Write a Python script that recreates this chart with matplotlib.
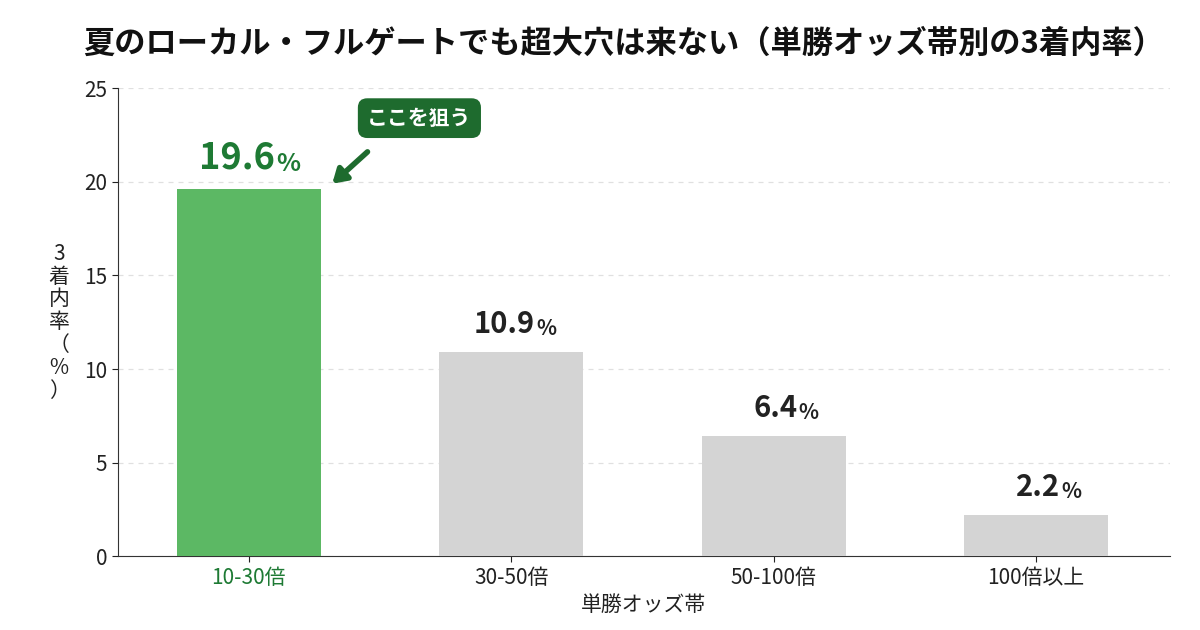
import matplotlib
matplotlib.use("Agg")
import matplotlib.pyplot as plt

plt.rcParams['font.family'] = ['Noto Sans CJK JP', 'DejaVu Sans']

categories = ["10-30倍", "30-50倍", "50-100倍", "100倍以上"]
values = [19.6, 10.9, 6.4, 2.2]
colors = ["#5cb864", "#d4d4d4", "#d4d4d4", "#d4d4d4"]
label_colors = ["#1e7a34", "#222222", "#222222", "#222222"]

fig = plt.figure(figsize=(12, 6.3), dpi=100)
ax = fig.add_axes([0.098, 0.117, 0.877, 0.743])
x = range(len(categories))
ax.bar(x, values, width=0.55, color=colors, zorder=3)
ax.set_xlim(-0.5, 3.51)
ax.set_ylim(0, 25)
ax.set_yticks([0, 5, 10, 15, 20, 25])
ax.yaxis.grid(True, linestyle=(0, (4, 4)), color="#e0e0e0", linewidth=0.9, zorder=0)
for s in ["top", "right"]:
    ax.spines[s].set_visible(False)
ax.spines["left"].set_color("#333333")
ax.spines["bottom"].set_color("#333333")
ax.tick_params(axis="both", labelsize=15, colors="#222222", length=4)
ax.set_xticks(list(x))
ax.set_xticklabels(categories)
for t, c in zip(ax.get_xticklabels(), label_colors):
    t.set_color(c)
ax.set_xlabel("単勝オッズ帯", fontsize=15, color="#222222", labelpad=4)
ax.set_ylabel("3\n着\n内\n率\n（\n%\n）", fontsize=15, rotation=0, color="#222222",
              labelpad=18, va="center", linespacing=1.05)

for i, v in enumerate(values):
    big = i == 0
    xo = i + (0.1 if big else 0.09)
    ax.text(xo, v + 0.7, f"{v}", fontsize=26 if big else 21, fontweight="bold",
            color=label_colors[i], ha="right", va="bottom", zorder=5)
    ax.annotate("%", (xo, v + 0.7), xytext=(1, 0), textcoords="offset points",
                fontsize=18 if big else 15, fontweight="bold", color=label_colors[i],
                ha="left", va="bottom")

ax.annotate("", xy=(0.31, 19.8), xytext=(0.46, 21.7),
            arrowprops=dict(arrowstyle="-|>,head_width=0.5,head_length=0.8",
                            color="#1e6b2e", lw=4))
ax.text(0.65, 23.4, "ここを狙う", fontsize=15, fontweight="bold", color="white",
        ha="center", va="center",
        bbox=dict(boxstyle="round,pad=0.45", fc="#1e6b2e", ec="none"))

fig.text(0.52, 0.93, "夏のローカル・フルゲートでも超大穴は来ない（単勝オッズ帯別の3着内率）",
         fontsize=22.5, fontweight="bold", ha="center", va="center", color="#111111")
fig.savefig("out.png", dpi=100)
